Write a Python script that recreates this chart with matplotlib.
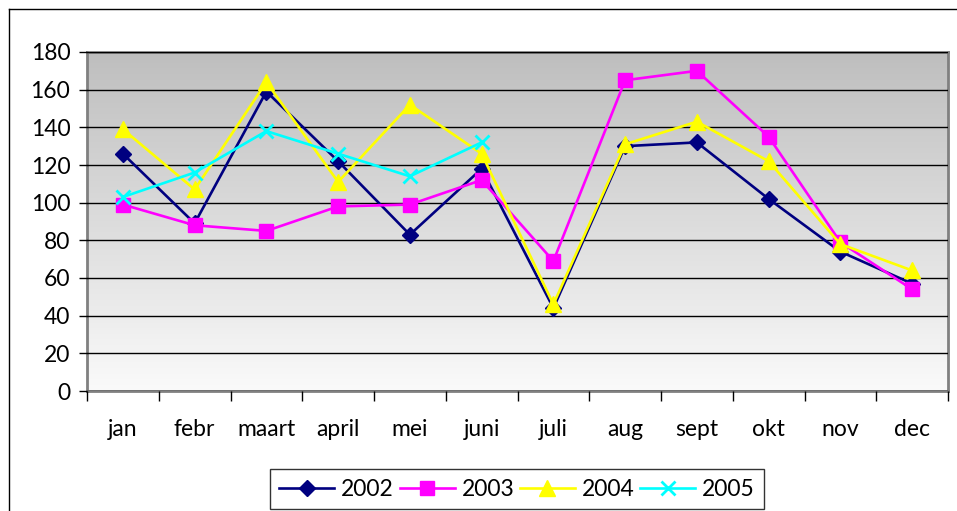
import numpy as np
import matplotlib.pyplot as plt
from matplotlib.lines import Line2D
from matplotlib.colors import LinearSegmentedColormap

months = ["jan", "febr", "maart", "april", "mei", "juni",
          "juli", "aug", "sept", "okt", "nov", "dec"]
y2002 = [126, 89, 159, 122, 83, 118, 44, 130, 132, 102, 74, 57]
y2003 = [99, 88, 85, 98, 99, 112, 69, 165, 170, 135, 79, 54]
y2004 = [139, 107, 164, 111, 152, 126, 46, 131, 143, 122, 78, 64]
y2005 = [103, 116, 138, 126, 114, 132]
y_ticks = [0, 20, 40, 60, 80, 100, 120, 140, 160, 180]

plt.rcParams["font.family"] = ["Lato", "DejaVu Sans"]
FS = 16.5

W, H = 957, 511
fig = plt.figure(figsize=(W / 100, H / 100), dpi=100)
fig.patch.set_facecolor("white")
ax = fig.add_axes([87 / W, 1 - 391 / H, (948 - 87) / W, (391 - 52) / H])

# grey-to-white gradient background of the plot area
grad = np.linspace(0, 1, 256).reshape(-1, 1)
ax.imshow(grad, cmap=LinearSegmentedColormap.from_list("bg", ["#bebebe", "#fafafa"]),
          aspect="auto", extent=[0, 1, 0, 1], transform=ax.transAxes, zorder=0)

x = np.arange(len(months))
ax.plot(x, y2002, color="#000080", lw=1.9, marker="D", ms=8, label="2002", zorder=3)
ax.plot(x, y2003, color="#ff00ff", lw=1.9, marker="s", ms=10, label="2003", zorder=3)
ax.plot(x, y2004, color="#ffff00", lw=1.9, marker="^", ms=11, label="2004", zorder=3)
ax.plot(x[:len(y2005)], y2005, color="#00ffff", lw=1.9, marker="x", ms=10, mew=2,
        label="2005", zorder=3)

ax.set_xlim(-0.5, len(months) - 0.5)
ax.set_ylim(0, 180)
ax.set_yticks(y_ticks)
ax.yaxis.grid(True, color="black", lw=1)
ax.set_axisbelow(False)
for gl in ax.get_ygridlines():
    gl.set_zorder(1)

ax.set_xticks(x)
ax.set_xticklabels(months)
ax.set_xticks(np.arange(-0.5, len(months)), minor=True)
ax.tick_params(axis="x", which="major", length=0, pad=20, labelsize=FS)
ax.tick_params(axis="x", which="minor", length=7, width=1, color="black")
ax.tick_params(axis="y", length=6, width=1, labelsize=FS, pad=6)

for side in ["top", "right", "left", "bottom"]:
    ax.spines[side].set_color("#808080")
    ax.spines[side].set_linewidth(2)

leg = ax.legend(loc="lower center", bbox_to_anchor=(517 / W, 0.0),
                bbox_transform=fig.transFigure, ncol=4, frameon=True,
                fancybox=False, edgecolor="black", fontsize=FS,
                handlelength=2.4, columnspacing=0.25, handletextpad=0.3,
                borderpad=0.4, borderaxespad=0.1)
leg.get_frame().set_linewidth(1)

# outer chart border (left and top edges visible)
fig.add_artist(Line2D([9 / W, 9 / W], [0, 1 - 9 / H], color="black", lw=1,
                      transform=fig.transFigure))
fig.add_artist(Line2D([9 / W, 1], [1 - 9 / H, 1 - 9 / H], color="black", lw=1,
                      transform=fig.transFigure))

fig.savefig("out.png", dpi=100)
